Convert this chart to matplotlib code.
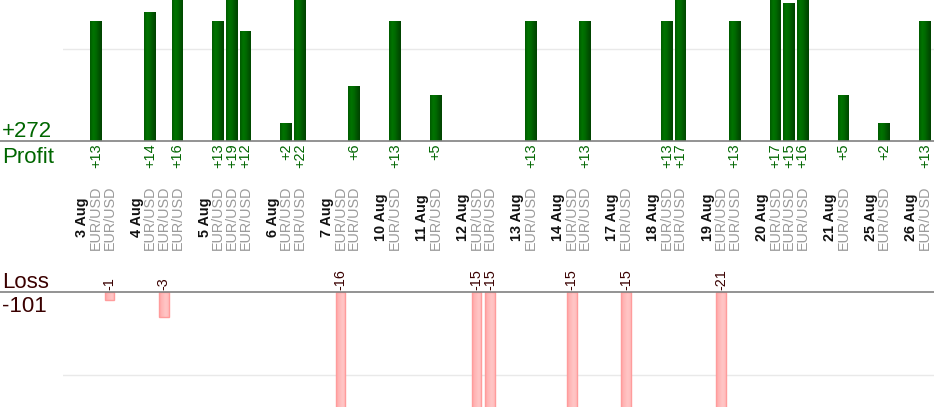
import matplotlib
matplotlib.use('Agg')
import matplotlib.pyplot as plt
import matplotlib.transforms as mtransforms
from matplotlib.colors import LinearSegmentedColormap
import numpy as np

plt.rcParams['font.family'] = ['Liberation Sans', 'DejaVu Sans']

# ---- data ----
days = ['3 Aug', '4 Aug', '5 Aug', '6 Aug', '7 Aug', '10 Aug', '11 Aug', '12 Aug',
        '13 Aug', '14 Aug', '17 Aug', '18 Aug', '19 Aug', '20 Aug', '21 Aug',
        '25 Aug', '26 Aug']
day_results = [[13, -1], [14, -3, 16], [13, 19, 12], [2, 22], [-16, 6], [13], [5],
               [-15, -15], [13], [-15, 13], [-15], [13, 17], [-21, 13],
               [17, 15, 16], [5], [2], [13]]
symbol = 'EUR/USD'

# ---- slot layout: [date label] trades [gap] ----
slot = 0
day_pos, trade_pos, trade_val = [], [], []
for d, res in zip(days, day_results):
    slot += 1
    day_pos.append(slot)
    for v in res:
        slot += 1
        trade_pos.append(slot)
        trade_val.append(v)
    slot += 1

trade_pos = np.array(trade_pos)
trade_val = np.array(trade_val)
win = trade_val > 0
win_pos, win_val = trade_pos[win], trade_val[win]
loss_pos, loss_val = trade_pos[~win], trade_val[~win]

W, H = 934, 420
fig = plt.figure(figsize=(W / 100, H / 100), dpi=100)
left = 63
ax1 = fig.add_axes([left / W, (H - 141) / H, (W - left) / W, 141 / H])
ax2 = fig.add_axes([left / W, 13 / H, (W - left) / W, 115 / H])

GREEN = '#006600'
MAROON = '#3a0000'
xlim = (-0.42, 63.66)

green_cmap = LinearSegmentedColormap.from_list(
    'g', ['#005a00', '#007400', '#006a00', '#005400', '#004200'])
pink_cmap = LinearSegmentedColormap.from_list(
    'p', ['#ffa6a6', '#ffb8b8', '#ffc6c6', '#ffbcbc'])
grad = np.linspace(0, 1, 64).reshape(1, -1)

bars1 = ax1.bar(win_pos, win_val, width=0.86, color='#006000', linewidth=0, zorder=2)
for b in bars1:
    im = ax1.imshow(grad, cmap=green_cmap, aspect='auto', interpolation='bilinear',
                    extent=(b.get_x(), b.get_x() + b.get_width(), 0, b.get_height()),
                    zorder=3)
    im.set_clip_path(b.get_path(), b.get_transform())

bars2 = ax2.bar(loss_pos, loss_val, width=0.72, color='none',
                edgecolor='#ff9c9c', linewidth=1, zorder=3)
for b in bars2:
    y0 = b.get_y()
    im = ax2.imshow(grad, cmap=pink_cmap, aspect='auto', interpolation='bilinear',
                    extent=(b.get_x(), b.get_x() + b.get_width(), y0 + b.get_height(), y0),
                    zorder=2)
    im.set_clip_path(b.get_path(), b.get_transform())

ax1.set_xlim(*xlim)
ax1.set_ylim(0, 15.33)
ax2.set_xlim(*xlim)
ax2.set_ylim(-13.9, 0)

for ax, g in ((ax1, 10), (ax2, -10)):
    ax.set_yticks([g])
    ax.set_xticks([])
    ax.yaxis.grid(True, color='#e9e9e9', linewidth=1)
    ax.tick_params(left=False, labelleft=False)
    for s in ax.spines.values():
        s.set_visible(False)
    ax.set_axisbelow(True)
    ax.axhline(0, xmin=-left / (W - left), xmax=1, clip_on=False,
               color='#808080', linewidth=1.2, zorder=5)

fs = 10.4
for p, v in zip(win_pos, win_val):
    ax1.annotate(f'+{v}', xy=(p, 0), xytext=(0, -1.5), textcoords='offset points',
                 rotation=90, ha='center', va='top', color=GREEN, fontsize=fs,
                 annotation_clip=False)
for p, v in zip(loss_pos, loss_val):
    ax2.annotate(f'{v}', xy=(p, 0), xytext=(0, 1.5), textcoords='offset points',
                 rotation=90, ha='center', va='bottom', color=MAROON, fontsize=fs,
                 annotation_clip=False)

trans = mtransforms.blended_transform_factory(ax1.transData, fig.transFigure)
ylab = (H - 217.5) / H
for p, d in zip(day_pos, days):
    fig.text(p, ylab, d, transform=trans, rotation=90, ha='center', va='center',
             fontsize=fs, fontweight='bold', color='#111111')
for p in trade_pos:
    fig.text(p, ylab, symbol, transform=trans, rotation=90, ha='center', va='center',
             fontsize=fs, color='#9a9a9a')

total_profit = int(win_val.sum())
total_loss = int(loss_val.sum())
big = 16
fig.text(2 / W, (H - 137) / H, f'+{total_profit}', color=GREEN, fontsize=big,
         va='baseline', ha='left')
fig.text(2 / W, (H - 163) / H, 'Profit', color=GREEN, fontsize=big,
         va='baseline', ha='left')
fig.text(2 / W, (H - 288) / H, 'Loss', color=MAROON, fontsize=big,
         va='baseline', ha='left')
fig.text(2 / W, (H - 312) / H, f'{total_loss}', color=MAROON, fontsize=big,
         va='baseline', ha='left')

fig.savefig('out.png', dpi=100, facecolor='white')
